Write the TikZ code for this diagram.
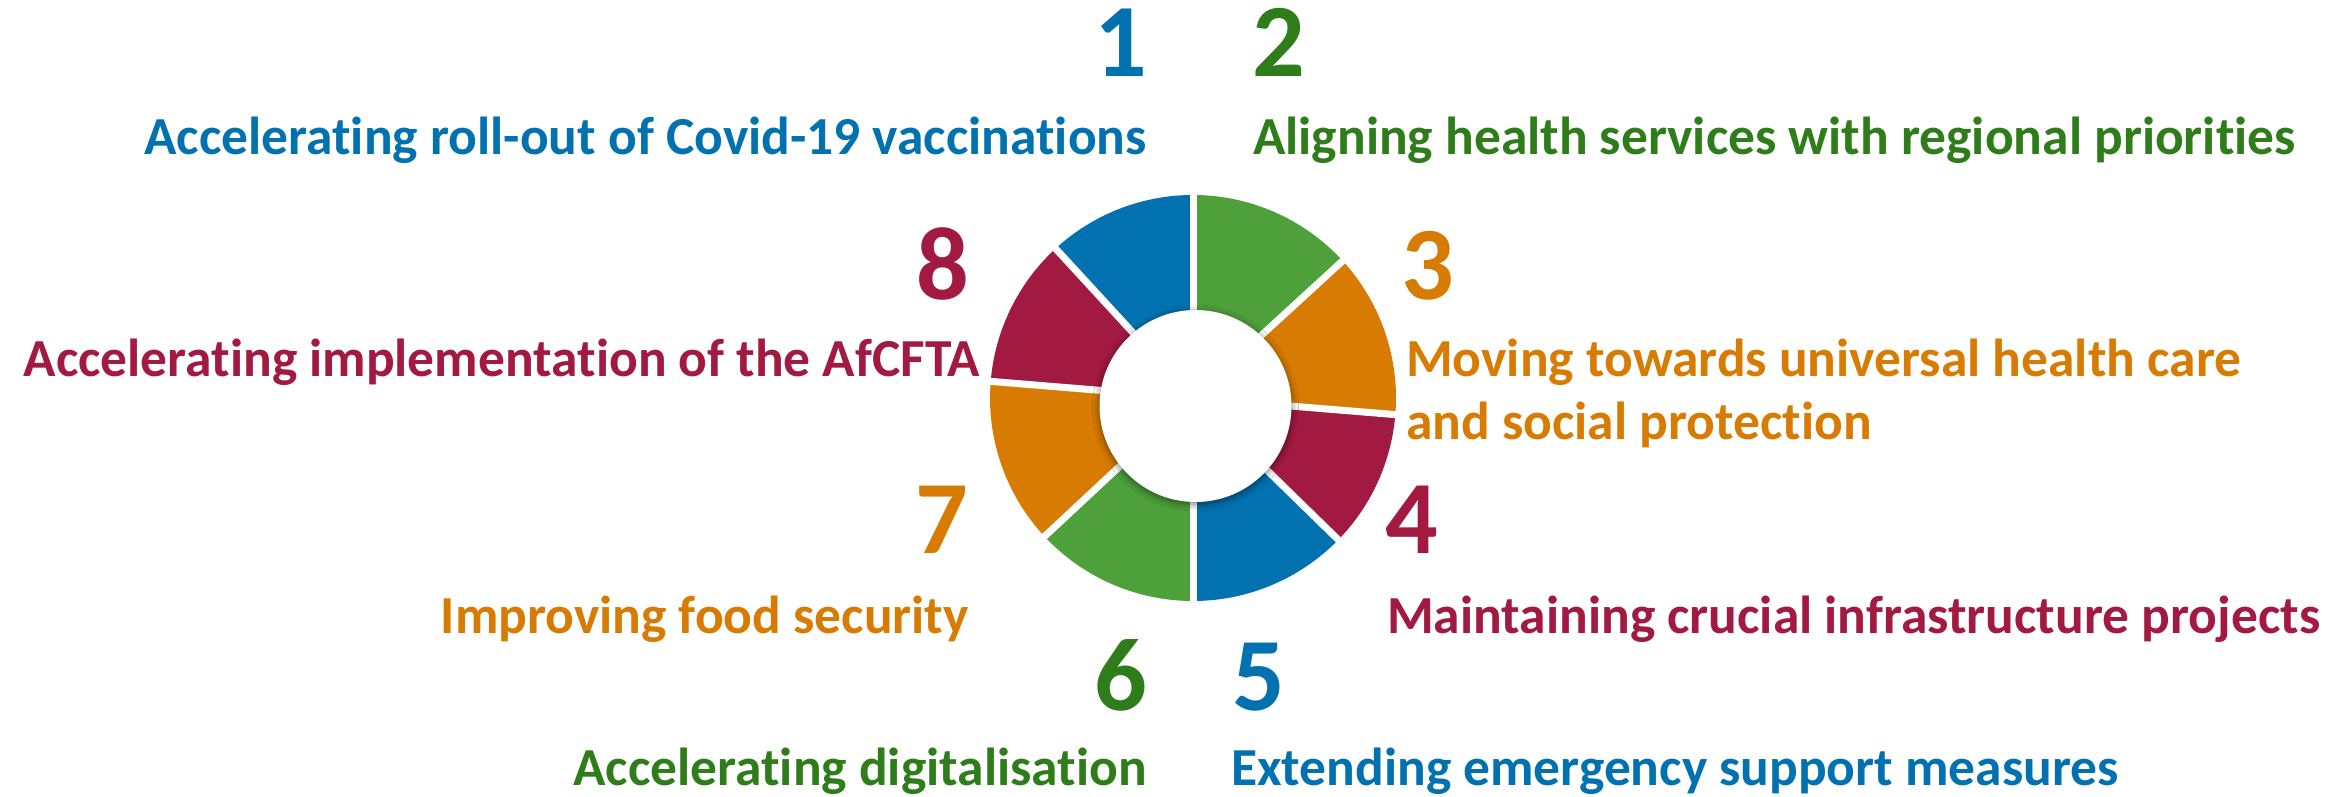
\documentclass[tikz,border=0pt]{standalone}
\usepackage{fontspec}
\setmainfont{Carlito}[Ligatures=NoCommon]
\usetikzlibrary{shadows.blur}
\definecolor{cblue}{RGB}{2,113,176}
\definecolor{tgreen}{RGB}{46,125,26}
\definecolor{rgreen}{RGB}{78,160,58}
\definecolor{corange}{RGB}{216,123,2}
\definecolor{crimson}{RGB}{162,25,66}
\begin{document}
\begin{tikzpicture}[x=1pt,y=1pt,
  lbl/.style={inner sep=0pt,font=\fontsize{53.5}{63}\selectfont\bfseries},
  num/.style={inner sep=0pt,font=\fontsize{104}{110}\selectfont\bfseries},
  gap/.style={white,line width=7pt}]
\useasboundingbox (0,0) rectangle (2346,796);
\coordinate (C) at (1193,398);
\coordinate (H) at (1195.5,390);
% ring wedges
\foreach \a/\b/\c in {132.6/90/cblue, 90/42.5/rgreen, 42.5/-4.7/corange, -4.7/-44.3/crimson,
  -44.3/-90/cblue, -90/-137/rgreen, -137/-184.7/corange, -184.7/-227.4/crimson}{
  \fill[\c] (C) -- ++(\a:203) arc[start angle=\a, end angle=\b, radius=203] -- cycle;
}
\foreach \a in {90,42.5,-4.7,-44.3,-90,-137,175.3,132.6}{
  \draw[gap] (C) -- ++(\a:210);
}
\fill[white, blur shadow={shadow xshift=0pt, shadow yshift=-2pt, shadow blur radius=7pt, shadow opacity=55}] (H) circle (96);
% numbers
\node[num, text=cblue, anchor=base east] (n1) at (1147,719) {1};
\node[num, text=tgreen, anchor=base west] (n2) at (1252,719) {2};
\node[num, text=corange, anchor=base west] (n3) at (1401,496) {3};
\node[num, text=crimson, anchor=base west] (n4) at (1385,242) {4};
\node[num, text=cblue, anchor=base west] (n5) at (1232,86) {5};
\node[num, text=tgreen, anchor=base east] (n6) at (1147,86) {6};
\node[num, text=corange, anchor=base east] (n7) at (968,242) {7};
\node[num, text=crimson, anchor=base east] (n8) at (969,496) {8};
% labels
\node[lbl, text=cblue, anchor=base east] (t1) at (1147,641) {Accelerating roll-out of Covid-19 vaccinations};
\node[lbl, text=tgreen, anchor=base west] (t2) at (1253,641) {Aligning health services with regional priorities};
\node[lbl, text=corange, anchor=base west] (t3a) at (1406,419) {Moving towards universal health care};
\node[lbl, text=corange, anchor=base west] (t3b) at (1406,356) {and social protection};
\node[lbl, text=crimson, anchor=base west] (t4) at (1387,163) {Maintaining crucial infrastructure projects};
\node[lbl, text=cblue, anchor=base west] (t5) at (1231,11) {Extending emergency support measures};
\node[lbl, text=tgreen, anchor=base east] (t6) at (1147,11) {Accelerating digitalisation};
\node[lbl, text=corange, anchor=base east] (t7) at (969,163) {Improving food security};
\node[lbl, text=crimson, anchor=base east] (t8) at (980,419) {Accelerating implementation of the AfCFTA};
\end{tikzpicture}
\end{document}
